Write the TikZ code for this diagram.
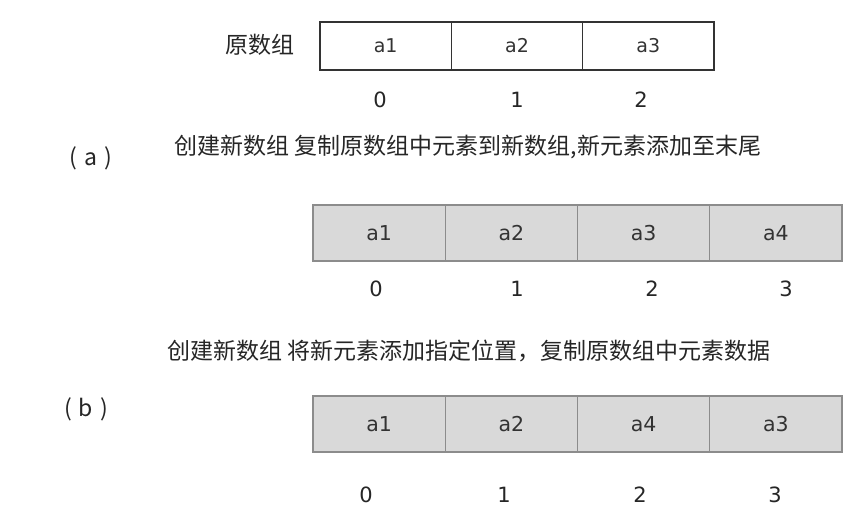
\documentclass[tikz,border=0pt]{standalone}
\usepackage{fontspec}
\setmainfont{DejaVu Sans}
\newfontfamily\cjk{Noto Sans CJK SC}
\usetikzlibrary{positioning}
\definecolor{cellgray}{HTML}{D9D9D9}
\definecolor{edgegray}{HTML}{8C8C8C}

\begin{document}
\begin{tikzpicture}[x=1pt,y=-1pt,node distance=0pt]
\tikzstyle{old}=[rectangle,draw=black!80,line width=1.5pt,minimum width=131.3pt,minimum height=48pt,inner sep=0pt,outer sep=0pt,font=\fontsize{19}{22}\selectfont,text=black!80]
\tikzstyle{new}=[rectangle,draw=edgegray,fill=cellgray,line width=0.8pt,minimum width=132.25pt,minimum height=56pt,inner sep=0pt,outer sep=0pt,font=\fontsize{20.5}{24}\selectfont,text=black!80]
\tikzstyle{idx}=[font=\fontsize{21}{24}\selectfont,text=black!85]
\tikzstyle{txt}=[font=\cjk\fontsize{23}{27}\selectfont,text=black!85]
\useasboundingbox (0,0) rectangle (859,524);
\fill[white] (0,0) rectangle (859,524);

% original array
\node[txt] (orig) at (260,45) {原数组};
\node[old] (o1) at (385.7,46) {a1};
\node[old] (o2) [right = of o1] {a2};
\node[old] (o3) [right = of o2] {a3};
\draw[black!80,line width=2.2pt] (o1.north west) rectangle (o3.south east);
\node[idx] (o1i) at (380,100) {0};
\node[idx] (o2i) at (517,100) {1};
\node[idx] (o3i) at (641,100) {2};

% (a) copy, append at end
\node[txt] (laba) at (91,158) {(\hspace{0.3em}a\hspace{0.3em})};
\node[txt] (capa) at (468,147) {创建新数组 复制原数组中元素到新数组,新元素添加至末尾};
\node[new] (a1) at (379.1,233) {a1};
\node[new] (a2) [right = of a1] {a2};
\node[new] (a3) [right = of a2] {a3};
\node[new] (a4) [right = of a3] {a4};
\draw[edgegray,line width=2.4pt] (a1.north west) rectangle (a4.south east);
\node[idx] (a1i) at (376,289) {0};
\node[idx] (a2i) at (517,289) {1};
\node[idx] (a3i) at (652,289) {2};
\node[idx] (a4i) at (786,289) {3};

% (b) insert at index
\node[txt] (capb) at (469,351) {创建新数组 将新元素添加指定位置，复制原数组中元素数据};
\node[txt] (labb) at (86,409) {(\hspace{0.3em}b\hspace{0.3em})};
\node[new] (b1) at (379.1,424) {a1};
\node[new] (b2) [right = of b1] {a2};
\node[new] (b3) [right = of b2] {a4};
\node[new] (b4) [right = of b3] {a3};
\draw[edgegray,line width=2.4pt] (b1.north west) rectangle (b4.south east);
\node[idx] (b1i) at (366,495) {0};
\node[idx] (b2i) at (504,495) {1};
\node[idx] (b3i) at (640,495) {2};
\node[idx] (b4i) at (775,495) {3};
\end{tikzpicture}
\end{document}
